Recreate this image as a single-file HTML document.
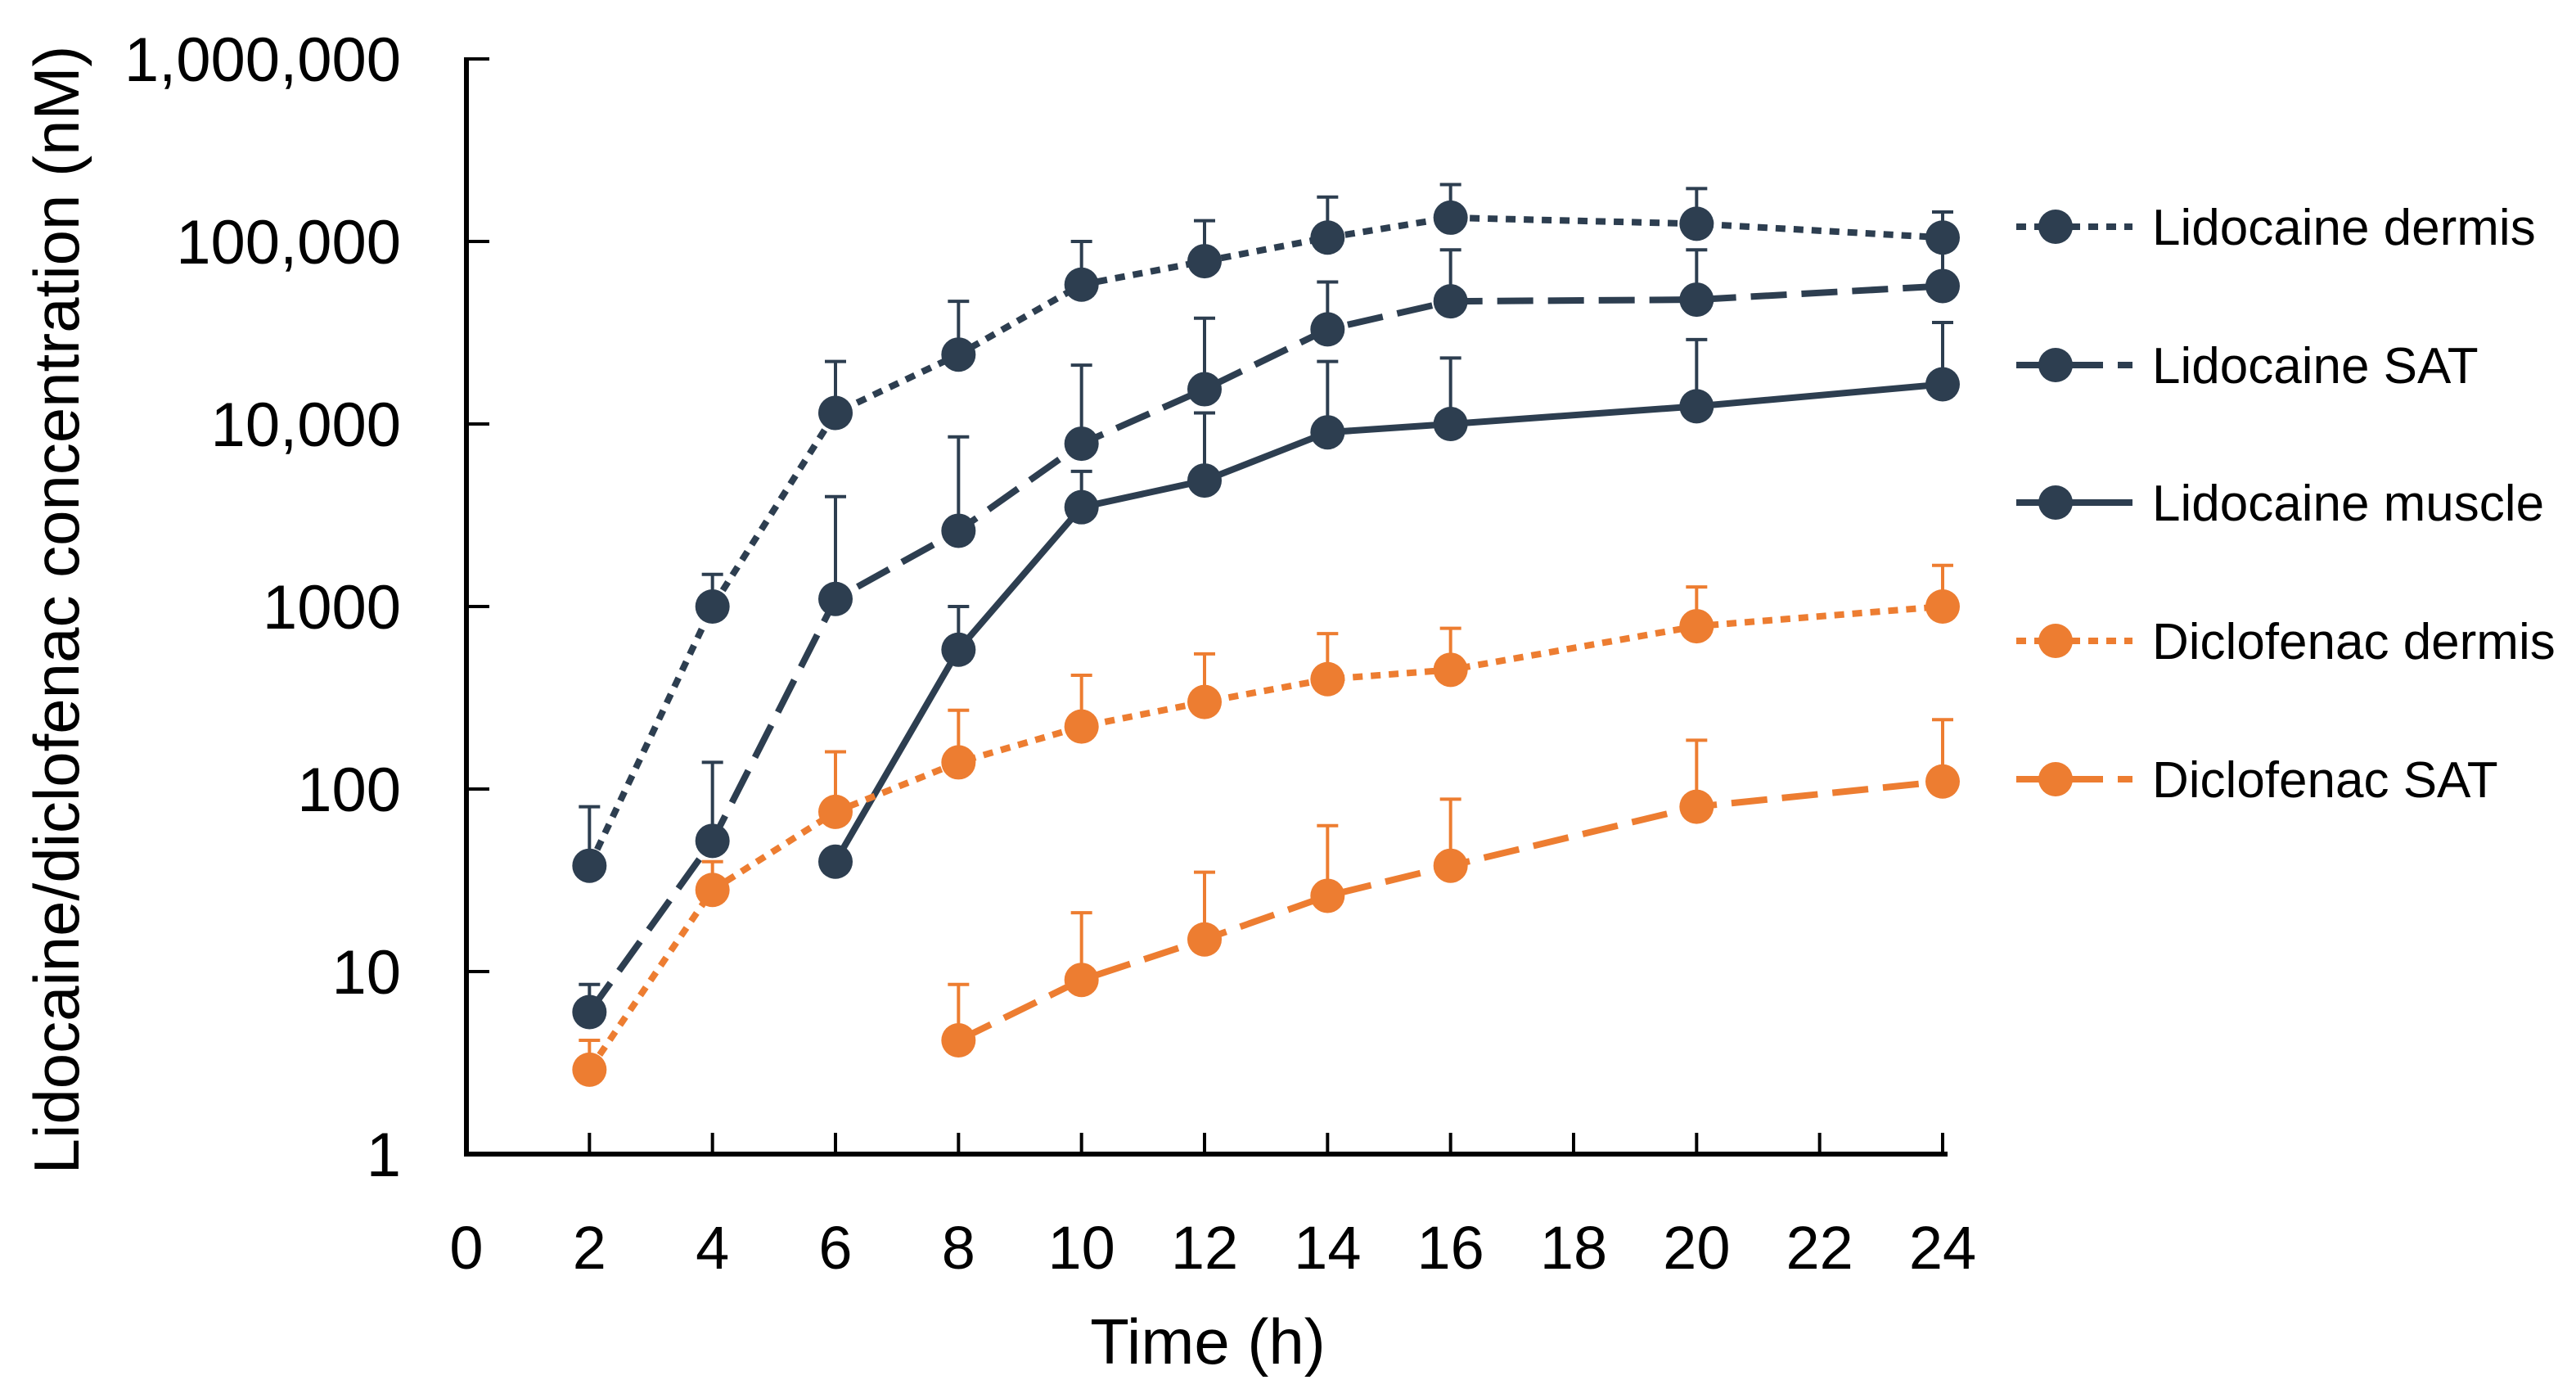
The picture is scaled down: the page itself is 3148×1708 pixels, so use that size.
<!DOCTYPE html>
<html><head><meta charset="utf-8">
<style>
html,body{margin:0;padding:0;background:#fff;}
svg{display:block;}
text{font-family:"Liberation Sans",sans-serif;fill:#000;}
</style></head>
<body>
<svg id="chart" width="3148" height="1708" viewBox="0 0 3148 1708" xmlns="http://www.w3.org/2000/svg">
<g id="axes"></g>
<g id="series"></g>
<g id="legend"></g>
<text x="1476" y="1666" font-size="78" text-anchor="middle">Time (h)</text>
<text transform="translate(96,745) rotate(-90)" font-size="78" text-anchor="middle">Lidocaine/diclofenac concentration (nM)</text>
</svg>
<script>
const xTicks = [0,2,4,6,8,10,12,14,16,18,20,22,24];
const yTicks = [1,10,100,1000,10000,100000,1000000];
const yTickLabels = ["1","10","100","1000","10,000","100,000","1,000,000"];
const seriesNames = ["Lidocaine dermis","Lidocaine SAT","Lidocaine muscle","Diclofenac dermis","Diclofenac SAT"];
const timesAll = [2,4,6,8,10,12,14,16,20,24];
const timesMuscle = [6,8,10,12,14,16,20,24];
const timesDicSat = [8,10,12,14,16,20,24];
const lidoDermis = [38,1000,11500,24000,58000,78000,105000,135000,125000,105000];
const lidoDermisErr = [80,1500,22000,47000,100000,130000,175000,205000,195000,145000];
const lidoSat = [6,52,1100,2600,7800,15500,33000,47000,48000,57000];
const lidoSatErr = [8.5,140,4000,8500,21000,38000,60000,90000,90000,100000];
const lidoMuscle = [40,580,3500,4900,9000,10000,12500,16500];
const lidoMuscleErr = [40,1000,5500,11500,22000,23000,29000,36000];
const dicDermis = [2.9,28,75,140,220,300,400,450,780,1000];
const dicDermisErr = [4.2,40,160,270,420,550,710,760,1280,1680];
const dicSat = [4.2,9,15,26,38,80,110];
const dicSatErr = [8.5,21,35,63,88,185,240];

const NS="http://www.w3.org/2000/svg";
const X0=570, X1=2374, Y0=1410, Y1=72;
const xs=v=>X0+(v-0)/24*(X1-X0);
const ys=v=>Y0-Math.log10(v)/6*(Y0-Y1);
function mk(tag,attrs,parent){const e=document.createElementNS(NS,tag);for(const k in attrs)e.setAttribute(k,attrs[k]);parent.appendChild(e);return e;}
const axes=document.getElementById('axes');
let a=mk('line',{x1:X0,y1:Y1-2,x2:X0,y2:Y0+3,stroke:'#000','stroke-width':6},axes);


a=mk('line',{x1:X0-3,y1:Y0,x2:X1+6,y2:Y0,stroke:'#000','stroke-width':6},axes);


yTicks.forEach((v,i)=>{
  const t=mk('line',{x1:X0,y1:ys(v),x2:X0+28,y2:ys(v),stroke:'#000','stroke-width':4},axes);
  
  
  const l=mk('text',{x:490,y:ys(v)+27,'font-size':76,'text-anchor':'end'},axes);
  l.textContent=yTickLabels[i];
  
  
});
xTicks.forEach(v=>{
  if(v>0){const t=mk('line',{x1:xs(v),y1:Y0,x2:xs(v),y2:Y0-26,stroke:'#000','stroke-width':4},axes);
  
  }
  const l=mk('text',{x:xs(v),y:1550,'font-size':74,'text-anchor':'middle'},axes);
  l.textContent=String(v);
  
  
});
const NAVY='#2d3e50', ORANGE='#ed7d31';
const DOT='12,10', DASH='44,18', SOLID='none';
const defs=[
 {name:seriesNames[0],t:timesAll,v:lidoDermis,e:lidoDermisErr,c:NAVY,d:DOT},
 {name:seriesNames[1],t:timesAll,v:lidoSat,e:lidoSatErr,c:NAVY,d:DASH},
 {name:seriesNames[2],t:timesMuscle,v:lidoMuscle,e:lidoMuscleErr,c:NAVY,d:SOLID},
 {name:seriesNames[3],t:timesAll,v:dicDermis,e:dicDermisErr,c:ORANGE,d:DOT},
 {name:seriesNames[4],t:timesDicSat,v:dicSat,e:dicSatErr,c:ORANGE,d:DASH}];
const sg=document.getElementById('series');
const lg=document.getElementById('legend');
const legY=[277,446,614,783,952];
defs.forEach((s,si)=>{
  const g=mk('g',{},sg);
  
  
  s.t.forEach((t,i)=>{
    const x=xs(t);
    const eb=mk('line',{x1:x,y1:ys(s.v[i]),x2:x,y2:ys(s.e[i]),stroke:s.c,'stroke-width':4},g);
    
    
    const cap=mk('line',{x1:x-13,y1:ys(s.e[i]),x2:x+13,y2:ys(s.e[i]),stroke:s.c,'stroke-width':4},g);
    
    
  });
  const pts=s.t.map((t,i)=>xs(t)+','+ys(s.v[i])).join(' ');
  const pl=mk('polyline',{points:pts,fill:'none',stroke:s.c,'stroke-width':8,'stroke-dasharray':s.d,'stroke-linejoin':'round'},g);
  
  
  s.t.forEach((t,i)=>{
    const c=mk('circle',{cx:xs(t),cy:ys(s.v[i]),r:21,fill:s.c},g);
    
    
  });
  const le=mk('g',{},lg);
  
  
  const y=legY[si];
  mk('line',{x1:2464,y1:y,x2:2606,y2:y,stroke:s.c,'stroke-width':8,'stroke-dasharray':s.d},le);
  mk('circle',{cx:2512,cy:y,r:21,fill:s.c},le);
  const tx=mk('text',{x:2630,y:y+22,'font-size':62},le);
  tx.textContent=s.name;
});
</script>
</body></html>
